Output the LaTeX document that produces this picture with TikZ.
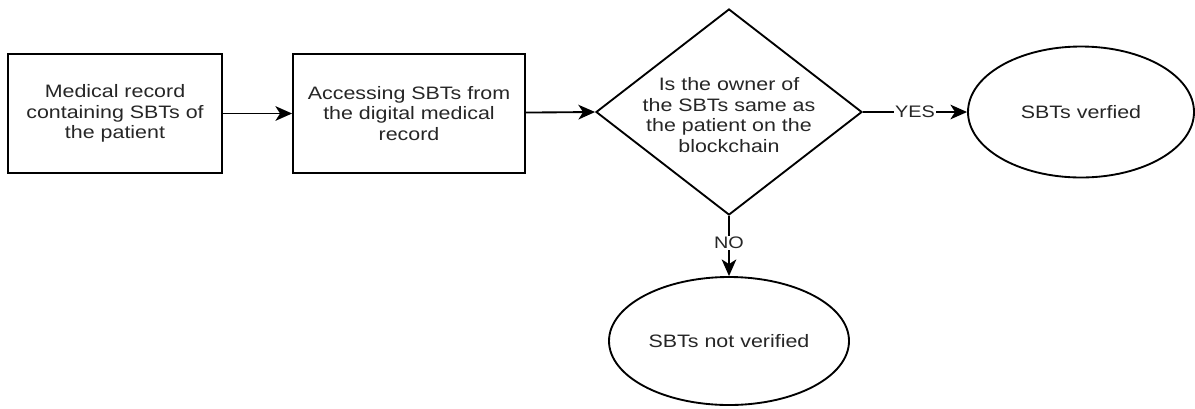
\documentclass[tikz,border=0pt]{standalone}
\usepackage{fontspec}
\setmainfont[FakeStretch=1.19]{Liberation Sans}
\usetikzlibrary{shapes.geometric,arrows.meta}
\begin{document}
\begin{tikzpicture}[x=0.75pt,y=-0.75pt,
  line width=1.4pt,
  txt/.style={font=\fontsize{13.5}{15.5}\selectfont, text=black!85, align=center},
  stepbox/.style={draw, rectangle, inner sep=0pt, txt},
  decision/.style={draw, diamond, inner sep=0pt},
  terminal/.style={draw, ellipse, inner sep=0pt, txt},
  flow/.style={-{Stealth[length=12.5pt,width=11pt,inset=3.5pt]}, line width=1.4pt},
  tag/.style={fill=white, inner sep=1pt, text=black!85, font=\fontsize{12.5}{12.5}\selectfont}
]
\useasboundingbox (0,0) rectangle (1195,408);

% process steps
\node[stepbox, minimum width=160.5pt, minimum height=89.25pt] (rec) at (115,113.5)
  {Medical record\\containing SBTs of\\the patient};
\node[stepbox, minimum width=174pt, minimum height=89.25pt] (acc) at (409,113.5)
  {Accessing SBTs from\\the digital medical\\record};

% decision
\node[decision, minimum width=199.5pt, minimum height=154.5pt] (q) at (729,112) {};
\node[txt] (qtext) at (729,115)
  {Is the owner of\\the SBTs same as\\the patient on the\\blockchain};

% outcomes
\node[terminal, minimum width=169.5pt, minimum height=98.25pt] (ok) at (1081,112)
  {SBTs verfied};
\node[terminal, minimum width=180pt, minimum height=96pt] (bad) at (729,341)
  {SBTs not verified};

% connectors
\draw[flow] (rec) -- (acc);
\draw[flow] (acc) -- (q.west);
\draw[flow] (q.east) -- node[tag] (yes) {YES} (ok.west);
\draw[flow] (q.south) -- node[tag, pos=0.45] (no) {NO} (bad.north);
\end{tikzpicture}
\end{document}
